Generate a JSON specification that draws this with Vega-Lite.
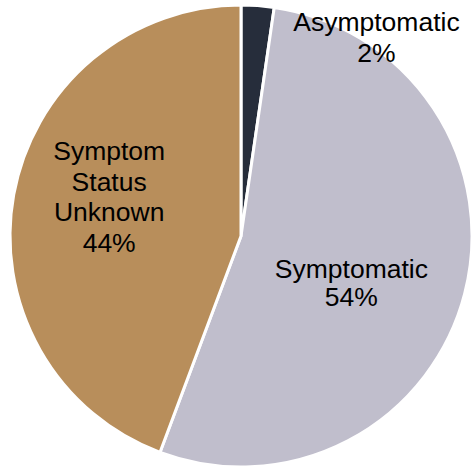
{
  "$schema": "https://vega.github.io/schema/vega-lite/v6.json",
  "width": 460,
  "height": 462,
  "autosize": {"type": "none"},
  "padding": {"left": 11, "top": 5, "right": 0, "bottom": 0},
  "background": "white",
  "view": {"stroke": null},
  "config": {"font": "Liberation Sans"},
  "data": {
    "values": [
      {"label": "Asymptomatic", "value": 2.3, "order": 1, "text": "Asymptomatic\n2%"},
      {"label": "Symptomatic", "value": 53.4, "order": 2, "text": "Symptomatic\n54%"},
      {"label": "Symptom Status Unknown", "value": 44.3, "order": 3, "text": "Symptom\nStatus\nUnknown\n44%"}
    ]
  },
  "encoding": {
    "theta": {"field": "value", "type": "quantitative", "stack": true},
    "order": {"field": "order", "type": "quantitative"}
  },
  "layer": [
    {
      "mark": {"type": "arc", "outerRadius": 231, "stroke": "white", "strokeWidth": 3},
      "encoding": {
        "color": {
          "field": "label",
          "type": "nominal",
          "scale": {
            "domain": ["Asymptomatic", "Symptomatic", "Symptom Status Unknown"],
            "range": ["#262d3b", "#c0becc", "#b88e5b"]
          },
          "legend": null
        }
      }
    },
    {
      "mark": {"type": "text", "radius": 214, "dx": 120, "dy": 0, "fontSize": 26.5, "lineBreak": "\n", "lineHeight": 31.5, "color": "black"},
      "encoding": {
        "text": {"condition": {"test": "datum.label == 'Asymptomatic'", "field": "text"}, "value": ""}
      }
    },
    {
      "mark": {"type": "text", "radius": 115, "dx": -1, "dy": 5, "fontSize": 26.5, "lineBreak": "\n", "lineHeight": 28, "color": "black"},
      "encoding": {
        "text": {"condition": {"test": "datum.label == 'Symptomatic'", "field": "text"}, "value": ""}
      }
    },
    {
      "mark": {"type": "text", "radius": 135, "dx": 1, "dy": -59.5, "fontSize": 26.5, "lineBreak": "\n", "lineHeight": 30.5, "color": "black"},
      "encoding": {
        "text": {"condition": {"test": "datum.label == 'Symptom Status Unknown'", "field": "text"}, "value": ""}
      }
    }
  ]
}
